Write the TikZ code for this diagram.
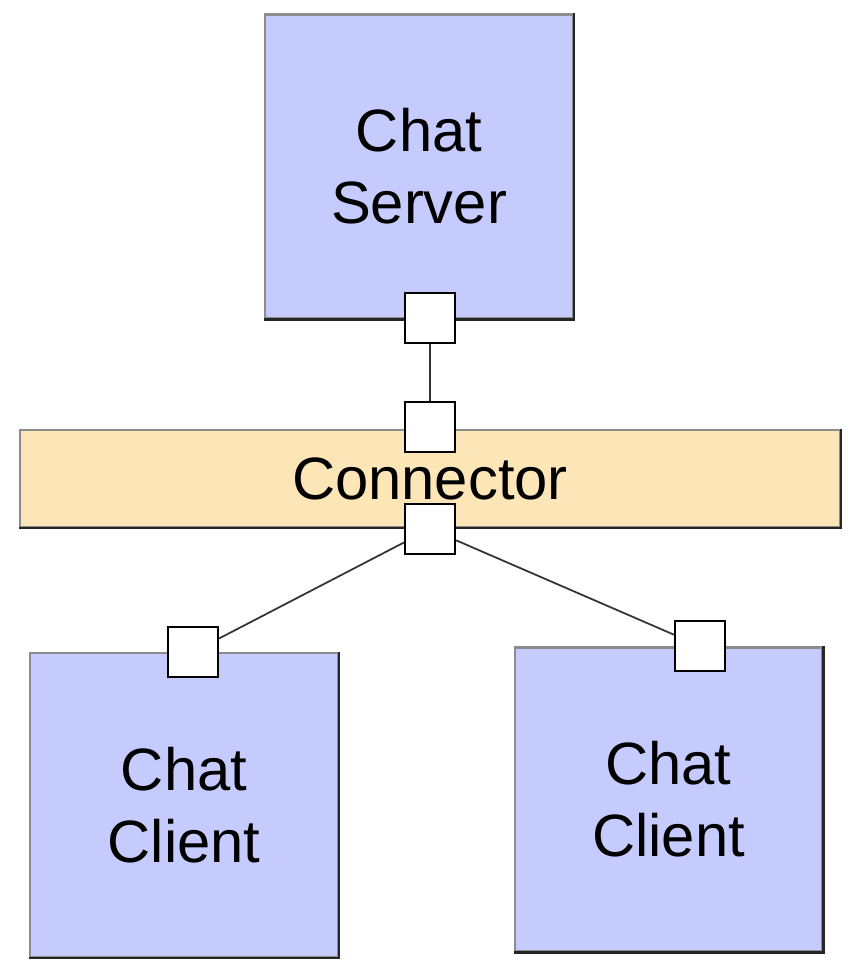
\documentclass[tikz,border=0pt]{standalone}
\usepackage{fontspec}
\setmainfont{Liberation Sans}
\usetikzlibrary{positioning}
\definecolor{compblue}{RGB}{198,203,253}
\definecolor{connorange}{RGB}{252,229,183}
\tikzset{
    component/.style={rectangle, draw=black!45, line width=1.4pt, fill=compblue, align=center, inner sep=0pt, minimum width=6.15cm, minimum height=6.08cm},
    connbar/.style={rectangle, draw=black!45, line width=1.4pt, fill=connorange, inner sep=0pt, minimum width=16.4cm, minimum height=1.94cm},
    port/.style={rectangle, draw=black, line width=1.2pt, fill=white, inner sep=0pt, minimum size=1cm},
    shade edge/.style={draw=black!85, line width=1.4pt},
    link/.style={draw=black!80, line width=1pt},
}

\begin{document}
\begin{tikzpicture}[font=\fontsize{34}{41}\selectfont]
            \useasboundingbox (0,0) rectangle (17,19.38);

            % Components
            \node[component] (server) at (8.38,16.05) {Chat\\Server};
            \node[connbar] (connector) at (8.6,9.81) {Connector};
            \node[component] (clientA) at (3.68,3.28) {Chat\\Client};
            \node[component] (clientB) at (13.37,3.39) {Chat\\Client};

            % Darker lower and right edges
            \draw[shade edge] (server.south west) -- (server.south east) -- (server.north east);
            \draw[shade edge] (connector.south west) -- (connector.south east) -- (connector.north east);
            \draw[shade edge] (clientA.south west) -- (clientA.south east) -- (clientA.north east);
            \draw[shade edge] (clientB.south west) -- (clientB.south east) -- (clientB.north east);

            % Ports
            \node[port] (serverport) at (8.6,13.02) {};
            \node[port] (conntop) at (8.6,10.84) {};
            \node[port] (connbottom) at (8.6,8.80) {};
            \node[port] (clientAport) at (3.86,6.34) {};
            \node[port] (clientBport) at (14.0,6.46) {};

            % Links
            \draw[link] (serverport) -- (conntop);
            \draw[link] (connbottom) -- (clientAport);
            \draw[link] (connbottom) -- (clientBport);

        \end{tikzpicture}
\end{document}
